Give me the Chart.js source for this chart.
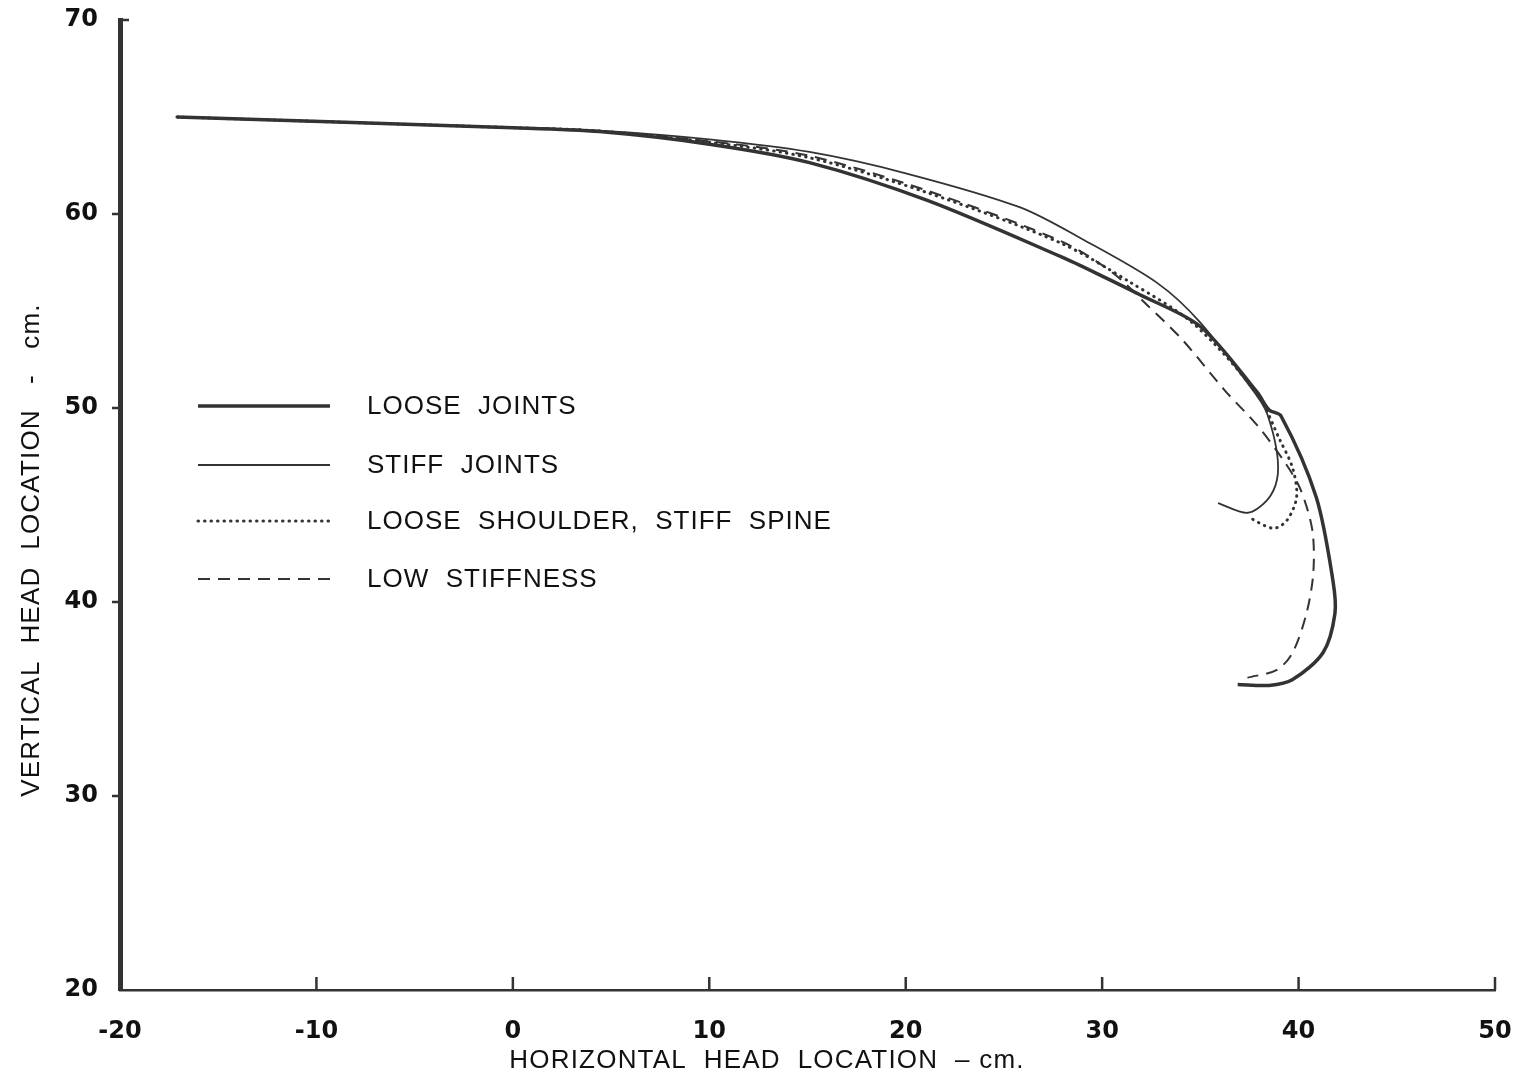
<!DOCTYPE html>
<html lang="en">
<head>
  <meta charset="UTF-8" />
  <title>Head Location Trajectories</title>
  <script src="https://cdn.jsdelivr.net/npm/chart.js"></script>
  <style>
    * { box-sizing: border-box; }
    html, body { margin: 0; padding: 0; background: #fff; }
    #wrap { width: 1522px; height: 1081px; position: relative; }
  </style>
</head>
<body>
  <div id="wrap"><canvas id="headChart"></canvas></div>

  <script>
    // tick values
    const xTicks = [-20, -10, 0, 10, 20, 30, 40, 50];
    const yTicks = [20, 30, 40, 50, 60, 70];

    const seriesNames = ['LOOSE  JOINTS', 'STIFF  JOINTS', 'LOOSE  SHOULDER,  STIFF  SPINE', 'LOW  STIFFNESS'];
    const xTitle = 'HORIZONTAL  HEAD  LOCATION  – cm.';
    const yTitle = 'VERTICAL  HEAD  LOCATION   -   cm.';

    // traces, [horizontal, vertical] in cm
    const looseJoints = [
      [-17.1, 65.0], [0, 64.45], [4.4, 64.25], [10, 63.6], [15.1, 62.65], [21.1, 60.7],
      [27.9, 57.8], [30, 56.8], [31.9, 55.85], [35, 54.2], [37.9, 50.8], [38.5, 49.9],
      [39.1, 49.6], [40.9, 45.4], [41.75, 41.1], [41.85, 39.4], [41.25, 37.4],
      [39.7, 36.0], [38.5, 35.7], [36.9, 35.75]
    ];
    const stiffJoints = [
      [-17.1, 65.0], [0, 64.45], [4.4, 64.3], [10, 63.85], [15.1, 63.2], [20, 62.1],
      [25.8, 60.35], [29, 58.7], [32.8, 56.45], [35, 54.4], [37.9, 50.6], [38.4, 49.7],
      [38.9, 47.7], [38.9, 46.3], [38.4, 45.25], [37.4, 44.6], [35.9, 45.1]
    ];
    const looseShoulder = [
      [-17.1, 65.0], [0, 64.45], [4.4, 64.28], [10, 63.7], [15.1, 62.9], [21.1, 61.1],
      [27.9, 58.5], [31.4, 56.5], [34.7, 54.3], [37.9, 50.7], [39.05, 48.35],
      [39.7, 46.9], [39.9, 45.4], [39.4, 44.2], [38.7, 43.8], [37.4, 44.4]
    ];
    const lowStiffness = [
      [-17.1, 65.0], [0, 64.45], [4.4, 64.28], [10, 63.75], [15.1, 63.0], [21.1, 61.2],
      [27.9, 58.6], [30.5, 57.0], [32.3, 55.3], [34.1, 53.5], [36.25, 50.9], [37.9, 49.1],
      [39.3, 47.2], [40.1, 45.8], [40.7, 43.7], [40.75, 41.5], [40.4, 39.4], [39.7, 37.4],
      [38.9, 36.5], [37.4, 36.1]
    ];

    const ink = '#333';
    const toPoints = arr => arr.map(p => ({ x: p[0], y: p[1] }));

    // short tick marks: bottom ones point up into the plot, left ones point out
    const tickMarks = {
      id: 'tickMarks',
      afterDraw(chart) {
        const c = chart.ctx;
        const xs = chart.scales.x, ys = chart.scales.y;
        c.save();
        c.strokeStyle = ink;
        c.lineWidth = 2.5;
        xTicks.forEach(v => {
          if (v === xTicks[0]) return;
          const px = xs.getPixelForValue(v);
          c.beginPath();
          c.moveTo(px, ys.bottom);
          c.lineTo(px, ys.bottom - 13);
          c.stroke();
        });
        yTicks.forEach(v => {
          if (v === yTicks[0]) return;
          const py = ys.getPixelForValue(v);
          c.beginPath();
          if (v === yTicks[yTicks.length - 1]) {
            c.moveTo(xs.left, py);
            c.lineTo(xs.left + 9, py);
          } else {
            c.moveTo(xs.left - 8, py);
            c.lineTo(xs.left, py);
          }
          c.stroke();
        });
        c.restore();
      }
    };

    // axis titles, hand-lettered look with wide spacing
    const axisTitles = {
      id: 'axisTitles',
      afterDraw(chart) {
        const c = chart.ctx;
        c.save();
        c.font = '26px "Liberation Sans", Arial, sans-serif';
        c.letterSpacing = '1.2px';
        c.fillStyle = '#111';
        c.textAlign = 'center';
        c.textBaseline = 'middle';
        c.fillText(xTitle, 767, 1061);
        c.translate(32, 550);
        c.rotate(-Math.PI / 2);
        c.fillText(yTitle, 0, 0);
        c.restore();
      }
    };

    // legend drawn inside the plot area, left side
    const innerLegend = {
      id: 'innerLegend',
      afterDraw(chart) {
        const c = chart.ctx;
        const rows = [406, 465, 521, 579];
        c.save();
        c.font = '26px "Liberation Sans", Arial, sans-serif';
        c.letterSpacing = '1px';
        c.textBaseline = 'middle';
        c.fillStyle = '#111';
        chart.data.datasets.forEach((ds, i) => {
          const y = rows[i];
          c.strokeStyle = ds.borderColor;
          c.lineWidth = ds.borderWidth;
          c.lineCap = ds.borderCapStyle || 'butt';
          c.setLineDash(ds.borderDash || []);
          c.beginPath();
          c.moveTo(198, y);
          c.lineTo(330, y);
          c.stroke();
          c.setLineDash([]);
          c.fillText(ds.label, 367, y + 1);
        });
        c.restore();
      }
    };

    new Chart(document.getElementById('headChart'), {
      type: 'scatter',
      data: {
        datasets: [
          { label: seriesNames[0], data: toPoints(looseJoints), borderColor: ink, borderWidth: 3.5 },
          { label: seriesNames[1], data: toPoints(stiffJoints), borderColor: ink, borderWidth: 1.8 },
          { label: seriesNames[2], data: toPoints(looseShoulder), borderColor: ink, borderWidth: 3,
            borderDash: [0.5, 6], borderCapStyle: 'round' },
          { label: seriesNames[3], data: toPoints(lowStiffness), borderColor: ink, borderWidth: 2,
            borderDash: [12, 8] }
        ].map(d => Object.assign(d, { showLine: true, pointRadius: 0, tension: 0.3, fill: false }))
      },
      options: {
        responsive: true,
        maintainAspectRatio: false,
        animation: false,
        layout: { padding: { top: 20, right: 27, left: 0, bottom: 0 } },
        plugins: { legend: { display: false }, tooltip: { enabled: false } },
        scales: {
          x: {
            type: 'linear', min: -20, max: 50,
            afterBuildTicks: s => { s.ticks = xTicks.map(v => ({ value: v })); },
            afterFit: s => { s.height = 91; s.paddingLeft = 0; s.paddingRight = 0; },
            grid: { display: false },
            border: { display: true, color: ink, width: 2.5 },
            ticks: {
              color: '#111', padding: 19,
              font: { family: '"DejaVu Sans", sans-serif', size: 24, weight: 'bold' },
              callback: v => (v < 0 ? '-' + Math.abs(v) : String(v))
            },
            title: { display: false }
          },
          y: {
            type: 'linear', min: 20, max: 70,
            afterBuildTicks: s => { s.ticks = yTicks.map(v => ({ value: v })); },
            afterFit: s => { s.width = 120; s.paddingTop = 0; s.paddingBottom = 0; },
            grid: { display: false },
            border: { display: true, color: ink, width: 5 },
            ticks: {
              color: '#111', padding: 14,
              font: { family: '"DejaVu Sans", sans-serif', size: 24, weight: 'bold' }
            },
            title: { display: false }
          }
        }
      },
      plugins: [tickMarks, axisTitles, innerLegend]
    });
  </script>
</body>
</html>
